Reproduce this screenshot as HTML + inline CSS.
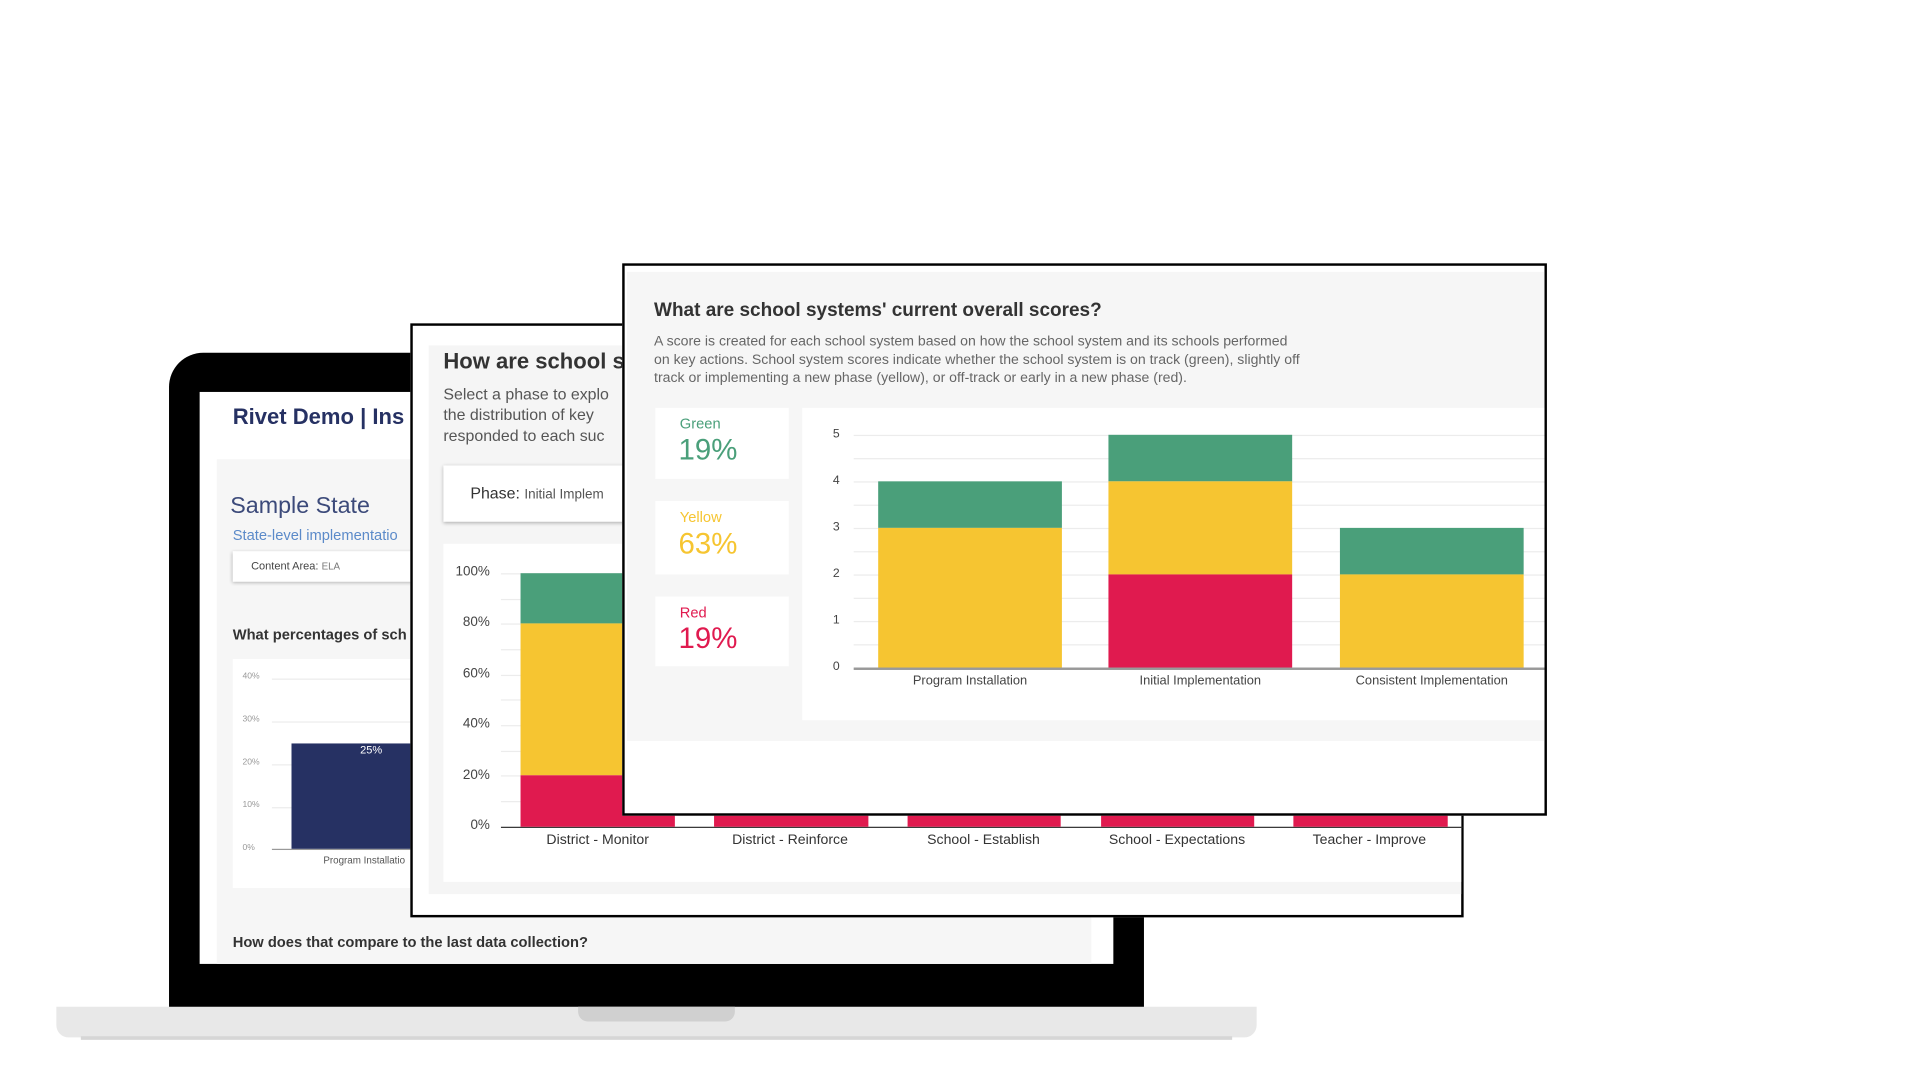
<!DOCTYPE html>
<html><head><meta charset="utf-8"><style>
*{margin:0;padding:0;box-sizing:border-box}
html,body{width:1920px;height:1080px;overflow:hidden;background:#fff;font-family:"Liberation Sans",sans-serif}
#w{position:absolute;left:0;top:0;width:1568px;height:882px;transform:scale(1.2248);transform-origin:0 0}
.a{position:absolute;white-space:nowrap}
.gl{position:absolute;height:1px;background:#ececec}
</style></head><body><div id="w">
<!-- laptop -->
<div class="a" style="left:138px;top:288px;width:796px;height:540px;background:#000;border-radius:28px 28px 0 0"></div>
<div class="a" style="left:163px;top:320px;width:746px;height:467px;background:#fff"></div>
<div class="a" style="left:46px;top:822px;width:980px;height:25px;background:#e8e8e8;border-radius:0 0 10px 10px"></div>
<div class="a" style="left:472px;top:822px;width:128px;height:12px;background:#d0d0d0;border-radius:0 0 8px 8px"></div>
<div class="a" style="left:66px;top:846px;width:940px;height:3px;background:#d6d6d6"></div>
<div class="a" style="left:190px;top:330px;font-size:18px;font-weight:bold;color:#263163">Rivet Demo | Ins</div>
<div class="a" style="left:177px;top:375px;width:714px;height:412px;background:#f6f6f6"></div>
<div class="a" style="left:188px;top:403px;font-size:19px;color:#3c4a7a">Sample State</div>
<div class="a" style="left:190px;top:430px;font-size:12px;color:#5b8ac9">State-level implementatio</div>
<div class="a" style="left:190px;top:450px;width:150px;height:25px;background:#fff;box-shadow:0 1px 3px rgba(0,0,0,.3);font-size:9px;color:#444;padding:7px 0 0 15px">Content Area: <span style="font-size:8px;color:#777">ELA</span></div>
<div class="a" style="left:190px;top:511px;font-size:12px;font-weight:bold;color:#333">What percentages of sch</div>
<div class="a" style="left:190px;top:538px;width:150px;height:187px;background:#fff"></div>
<div class="a" style="left:198px;top:535px;font-size:7px;color:#999;line-height:35px">40%<br>30%<br>20%<br>10%<br>0%</div>
<div class="gl" style="left:222px;top:554px;width:120px"></div>
<div class="gl" style="left:222px;top:589px;width:120px"></div>
<div class="gl" style="left:222px;top:624px;width:120px"></div>
<div class="gl" style="left:222px;top:659px;width:120px"></div>
<div class="a" style="left:222px;top:693px;width:120px;height:1px;background:#999"></div>
<div class="a" style="left:238px;top:607px;width:100px;height:86px;background:#263163"></div>
<div class="a" style="left:294px;top:607px;font-size:9px;color:#fff">25%</div>
<div class="a" style="left:264px;top:698px;font-size:8px;color:#555">Program Installatio</div>
<div class="a" style="left:190px;top:762px;font-size:12px;font-weight:bold;color:#333">How does that compare to the last data collection?</div>
<!-- middle panel -->
<div class="a" style="left:335px;top:264px;width:860px;height:485px;background:#fff;border:2px solid #000"></div>
<div class="a" style="left:350px;top:282px;width:843px;height:448px;background:#f5f5f5"></div>
<div class="a" style="left:362px;top:285px;font-size:18px;font-weight:bold;color:#333">How are school s</div>
<div class="a" style="left:362px;top:313px;font-size:13px;color:#555;line-height:17px">Select a phase to explo<br>the distribution of key<br>responded to each suc</div>
<div class="a" style="left:362px;top:380px;width:160px;height:46px;background:#fff;box-shadow:0 1px 3px rgba(0,0,0,.3);font-size:13px;color:#333;padding:15px 0 0 22px">Phase: <span style="font-size:11px;color:#555">Initial Implem</span></div>
<div class="a" style="left:362px;top:444px;width:831px;height:276px;background:#fff"></div>
<div class="a" style="left:360px;top:447px;width:40px;text-align:right;font-size:11px;color:#444;line-height:41.4px">100%<br>80%<br>60%<br>40%<br>20%<br>0%</div>
<div class="gl" style="left:409px;top:468px;width:100px"></div>
<div class="gl" style="left:409px;top:489px;width:100px"></div>
<div class="gl" style="left:409px;top:509px;width:100px"></div>
<div class="gl" style="left:409px;top:530px;width:100px"></div>
<div class="gl" style="left:409px;top:551px;width:100px"></div>
<div class="gl" style="left:409px;top:571px;width:100px"></div>
<div class="gl" style="left:409px;top:592px;width:100px"></div>
<div class="gl" style="left:409px;top:613px;width:100px"></div>
<div class="gl" style="left:409px;top:633px;width:100px"></div>
<div class="gl" style="left:409px;top:654px;width:100px"></div>
<div class="a" style="left:409px;top:675px;width:785px;height:1px;background:#333"></div>
<div class="a" style="left:425px;top:468px;width:126px;height:41px;background:#4a9f7a"></div>
<div class="a" style="left:425px;top:509px;width:126px;height:124px;background:#f6c531"></div>
<div class="a" style="left:425px;top:633px;width:126px;height:42px;background:#e01a4f"></div>
<div class="a" style="left:583px;top:660px;width:126px;height:15px;background:#e01a4f"></div>
<div class="a" style="left:741px;top:660px;width:125px;height:15px;background:#e01a4f"></div>
<div class="a" style="left:899px;top:660px;width:125px;height:15px;background:#e01a4f"></div>
<div class="a" style="left:1056px;top:660px;width:126px;height:15px;background:#e01a4f"></div>
<div class="a" style="left:408px;top:680px;width:160px;text-align:center;font-size:11.5px;color:#333">District - Monitor</div>
<div class="a" style="left:565px;top:680px;width:160px;text-align:center;font-size:11.5px;color:#333">District - Reinforce</div>
<div class="a" style="left:723px;top:680px;width:160px;text-align:center;font-size:11.5px;color:#333">School - Establish</div>
<div class="a" style="left:881px;top:680px;width:160px;text-align:center;font-size:11.5px;color:#333">School - Expectations</div>
<div class="a" style="left:1038px;top:680px;width:160px;text-align:center;font-size:11.5px;color:#333">Teacher - Improve</div>
<!-- front panel -->
<div class="a" style="left:508px;top:215px;width:755px;height:451px;background:#fff;border:2px solid #000"></div>
<div class="a" style="left:512px;top:222px;width:749px;height:383px;background:#f6f6f6"></div>
<div class="a" style="left:534px;top:245px;font-size:15.5px;font-weight:bold;color:#333">What are school systems' current overall scores?</div>
<div class="a" style="left:534px;top:272px;font-size:11.5px;color:#666;line-height:15px">A score is created for each school system based on how the school system and its schools performed<br>on key actions. School system scores indicate whether the school system is on track (green), slightly off<br>track or implementing a new phase (yellow), or off-track or early in a new phase (red).</div>
<div class="a" style="left:535px;top:333px;width:109px;height:58px;background:#fff"></div>
<div class="a" style="left:535px;top:409px;width:109px;height:60px;background:#fff"></div>
<div class="a" style="left:535px;top:487px;width:109px;height:57px;background:#fff"></div>
<div class="a" style="left:555px;top:339px;font-size:12px;color:#4a9f7a">Green</div>
<div class="a" style="left:554px;top:354px;font-size:24px;color:#4a9f7a">19%</div>
<div class="a" style="left:555px;top:415px;font-size:12px;color:#f6c531">Yellow</div>
<div class="a" style="left:554px;top:431px;font-size:24px;color:#f6c531">63%</div>
<div class="a" style="left:555px;top:493px;font-size:12px;color:#e01a4f">Red</div>
<div class="a" style="left:554px;top:508px;font-size:24px;color:#e01a4f">19%</div>
<div class="a" style="left:655px;top:333px;width:606px;height:255px;background:#fff"></div>
<div class="a" style="left:680px;top:336px;font-size:10px;color:#444;line-height:38px">5<br>4<br>3<br>2<br>1<br>0</div>
<div class="gl" style="left:697px;top:355px;width:564px"></div>
<div class="gl" style="left:697px;top:374px;width:564px"></div>
<div class="gl" style="left:697px;top:393px;width:564px"></div>
<div class="gl" style="left:697px;top:412px;width:564px"></div>
<div class="gl" style="left:697px;top:431px;width:564px"></div>
<div class="gl" style="left:697px;top:450px;width:564px"></div>
<div class="gl" style="left:697px;top:469px;width:564px"></div>
<div class="gl" style="left:697px;top:488px;width:564px"></div>
<div class="gl" style="left:697px;top:507px;width:564px"></div>
<div class="gl" style="left:697px;top:526px;width:564px"></div>
<div class="a" style="left:697px;top:545px;width:564px;height:2px;background:#999"></div>
<div class="a" style="left:717px;top:393px;width:150px;height:38px;background:#4a9f7a"></div>
<div class="a" style="left:717px;top:431px;width:150px;height:114px;background:#f6c531"></div>
<div class="a" style="left:905px;top:355px;width:150px;height:38px;background:#4a9f7a"></div>
<div class="a" style="left:905px;top:393px;width:150px;height:76px;background:#f6c531"></div>
<div class="a" style="left:905px;top:469px;width:150px;height:76px;background:#e01a4f"></div>
<div class="a" style="left:1094px;top:431px;width:150px;height:38px;background:#4a9f7a"></div>
<div class="a" style="left:1094px;top:469px;width:150px;height:76px;background:#f6c531"></div>
<div class="a" style="left:712px;top:550px;width:160px;text-align:center;font-size:10.5px;color:#444">Program Installation</div>
<div class="a" style="left:900px;top:550px;width:160px;text-align:center;font-size:10.5px;color:#444">Initial Implementation</div>
<div class="a" style="left:1084px;top:550px;width:170px;text-align:center;font-size:10.5px;color:#444">Consistent Implementation</div>
</div></body></html>
